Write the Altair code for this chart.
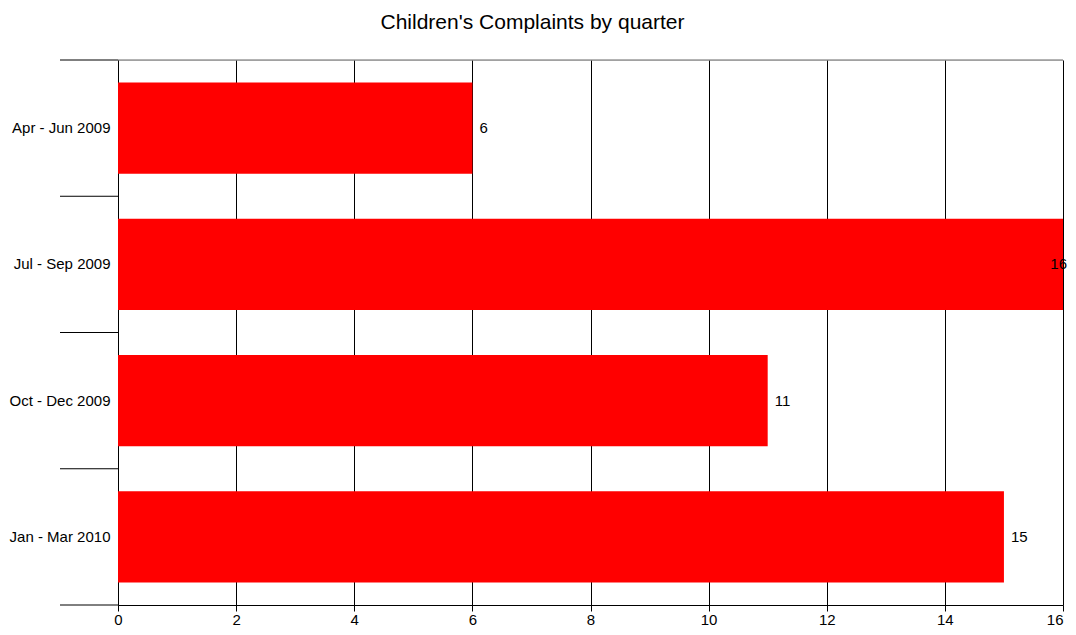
import altair as alt
import pandas as pd

quarters = ["Apr - Jun 2009", "Jul - Sep 2009", "Oct - Dec 2009", "Jan - Mar 2010"]
complaints = [6, 16, 11, 15]
x_ticks = [0, 2, 4, 6, 8, 10, 12, 14, 16]

df = pd.DataFrame({"quarter": quarters, "value": complaints})

W, H = 945, 545
FONT = "Liberation Sans"
FS = 15

yenc = alt.Y("quarter:N", sort=quarters,
             scale=alt.Scale(paddingInner=0, paddingOuter=0),
             axis=alt.Axis(title=None, ticks=False, domain=True, domainColor="black",
                           labelFont=FONT, labelFontSize=FS, labelColor="black",
                           labelPadding=8, grid=False, labelLimit=300))
xscale = alt.Scale(domain=[0, 16], nice=False)

bars = alt.Chart(df).mark_bar(color="#ff0000", height={"band": 0.67}).encode(
    x=alt.X("value:Q", scale=xscale,
            axis=alt.Axis(title=None, values=x_ticks, format="d", grid=True, gridColor="black",
                          gridOpacity=1, gridWidth=1, tickColor="black", tickSize=6,
                          domainColor="black", labelFont=FONT, labelFontSize=FS,
                          labelColor="black", labelPadding=1, labelFlush=False,
                          labelAlign={"condition": {"test": "datum.value >= 16", "value": "right"},
                                      "value": "center"})),
    y=yenc,
)

labels = alt.Chart(df).transform_filter(alt.datum.value < 16).mark_text(
    align="left", baseline="middle", dx=7, font=FONT, fontSize=FS, color="black"
).encode(x=alt.X("value:Q", scale=xscale), y=alt.Y("quarter:N", sort=quarters), text="value:Q")

labels_max = alt.Chart(df).transform_filter(alt.datum.value >= 16).mark_text(
    align="right", baseline="middle", dx=4, font=FONT, fontSize=FS, color="black"
).encode(x=alt.X("value:Q", scale=xscale), y=alt.Y("quarter:N", sort=quarters), text="value:Q")

# category boundary lines extending left of the plot
bounds = alt.Chart(df).mark_rule(color="black", strokeWidth=1, clip=False).encode(
    y=alt.Y("quarter:N", sort=quarters, bandPosition=0),
    x=alt.value(-58), x2=alt.value(0),
)
top_line = alt.Chart(df).transform_filter(alt.datum.quarter == quarters[0]).mark_rule(
    color="#666666", strokeWidth=1, clip=False
).encode(y=alt.Y("quarter:N", sort=quarters, bandPosition=0), x=alt.value(0), x2=alt.value(W))
bottom_line = alt.Chart(df).transform_filter(alt.datum.quarter == quarters[0]).mark_rule(
    color="black", strokeWidth=1, clip=False
).encode(y=alt.value(H), x=alt.value(-58), x2=alt.value(0))

chart = alt.layer(bars, labels, labels_max, bounds, top_line, bottom_line).properties(
    width=W, height=H,
    title=alt.TitleParams("Children's Complaints by quarter", font=FONT, fontSize=21,
                          fontWeight="normal", color="black", anchor="middle",
                          frame="group", dx=-58, offset=27),
    autosize=alt.AutoSizeParams(type="none"),
    padding={"left": 110, "top": 52, "right": 5, "bottom": 22},
).configure_view(stroke=None).configure(background="white")

chart.save("out.html", embed_options={"renderer": "svg", "actions": False})
